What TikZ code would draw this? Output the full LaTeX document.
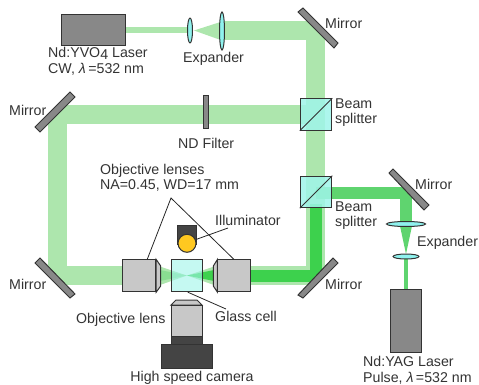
\documentclass[tikz,border=0pt]{standalone}
\usetikzlibrary{shapes.geometric}
\usepackage{fontspec}
\setmainfont{Liberation Sans}
\definecolor{beamlight}{HTML}{ADE6AD}
\definecolor{beamdark}{HTML}{3DD14D}
\definecolor{beammid}{HTML}{5FD46F}
\definecolor{metal}{HTML}{888888}
\definecolor{lensblue}{HTML}{8FF2EE}
\definecolor{splitblue}{HTML}{9FF5EA}
\definecolor{body}{HTML}{C8C8C8}
\definecolor{housing}{HTML}{444444}
\definecolor{lamp}{HTML}{FFC820}
\definecolor{ink}{HTML}{333333}
\tikzset{
  lbl/.style={inner sep=0pt,font=\fontsize{14.2}{15.5}\selectfont,text=ink,align=left,anchor=west},
  part/.style={draw=black!80,line width=1pt,line join=miter},
  mirrorbar/.style={part,fill=metal},
  lensbody/.style={part,fill=lensblue},
  laser/.style={part,fill=metal},
  leader/.style={draw=black!85,line width=.8pt},
  beam/.style={line join=bevel,line cap=butt}
}
\begin{document}
\begin{tikzpicture}[x=1pt,y=-1pt]
\useasboundingbox (0,0) rectangle (479,385);
% beams
\draw[beam,beamlight,line width=6pt] (125,30.5) -- (192,30.5);
\fill[beamlight] (194,30.5) -- (222,21.5) -- (222,40.5) -- cycle;
\draw[beam,beamlight,line width=19pt] (222,31) -- (315.5,31) -- (315.5,275.5) -- (250,275.5);
\draw[beam,beamlight,line width=19pt] (315.5,114.5) -- (57.5,114.5) -- (57.5,275.5) -- (123,275.5);
\fill[beamlight] (160,266.5) -- (187,275.5) -- (160,285) -- cycle;
\fill[beamlight] (214,266.5) -- (187,275.5) -- (214,285) -- cycle;
\fill[beammid,opacity=.45] (160,270) -- (187,275.5) -- (160,281) -- cycle;
\fill[beamdark] (214,270) -- (187,275.5) -- (214,281) -- cycle;
\draw[beam,beammid,line width=12pt] (316,192.5) -- (406,192.5) -- (406,226);
\draw[beam,beamdark,line width=12pt] (316,204) -- (316,275.5) -- (250,275.5);
\fill[beammid] (400,226) -- (412,226) -- (406,254) -- cycle;
\draw[beam,beammid,line width=4pt] (406,256) -- (406,290);
% top laser line
\node[laser,minimum width=64pt,minimum height=31pt,inner sep=0pt] (yvo) at (93,30.5) {};
\node[lensbody,ellipse,minimum width=5pt,minimum height=25pt,inner sep=0pt] (lensA) at (190,30.5) {};
\node[lensbody,ellipse,minimum width=5pt,minimum height=38pt,inner sep=0pt] (lensB) at (222,31) {};
% mirrors
\draw[mirrorbar] (298,12) -- (303,8) -- (338,43) -- (334,48) -- cycle;
\draw[mirrorbar] (35,127) -- (70,92) -- (75,97) -- (40,132) -- cycle;
\draw[mirrorbar] (35,263) -- (40,258) -- (75,294) -- (70,298) -- cycle;
\draw[mirrorbar] (298,295) -- (333,258) -- (338,263) -- (303,298) -- cycle;
\draw[mirrorbar] (389,173) -- (393,169) -- (429,205) -- (424,210) -- cycle;
% ND filter
\node[laser,minimum width=5pt,minimum height=33pt,inner sep=0pt] (nd) at (206,112) {};
% splitters
\foreach \n/\y in {splitA/114.5,splitB/192} {
  \node[part,fill=splitblue,fill opacity=.85,minimum size=31.5pt,inner sep=0pt] (\n) at (316,\y) {};
  \draw[part] (\n.south west) -- (\n.north east);
}
% right lenses and laser
\node[lensbody,ellipse,minimum width=39pt,minimum height=5pt,inner sep=0pt] (lensC) at (406,224) {};
\node[lensbody,ellipse,minimum width=26pt,minimum height=5pt,inner sep=0pt] (lensD) at (406,256.5) {};
\node[laser,minimum width=31pt,minimum height=63pt,inner sep=0pt] (yag) at (406.2,320.5) {};
% cell
\node[part,fill=splitblue,fill opacity=.6,minimum width=31.3pt,minimum height=31.7pt,inner sep=0pt] (cell) at (186.7,275.8) {};
% objective lenses
\node[part,fill=body,minimum width=33pt,minimum height=31.7pt,inner sep=0pt] (objL) at (139.2,275.8) {};
\draw[part,fill=body] (objL.north east) -- (160.7,266) -- (160.7,286) -- (objL.south east) -- cycle;
\node[part,fill=body,minimum width=32.7pt,minimum height=31.7pt,inner sep=0pt] (objR) at (234.3,275.8) {};
\draw[part,fill=body] (objR.north west) -- (213.3,266) -- (213.3,286) -- (objR.south west) -- cycle;
% illuminator
\node[part,fill=housing,minimum width=18.3pt,minimum height=19pt,inner sep=0pt] (lampbox) at (186.9,234.5) {};
\node[part,fill=lamp,circle,minimum size=18pt,inner sep=0pt] (lampbulb) at (187,243.3) {};
% camera
\draw[part,fill=body] (171,305) -- (176,300) -- (197,300) -- (202,305) -- cycle;
\node[part,fill=body,minimum width=31pt,minimum height=31pt,inner sep=0pt] (camlens) at (186.5,320.5) {};
\node[part,fill=housing,minimum width=31pt,minimum height=8pt,inner sep=0pt] (camring) at (186.5,340) {};
\node[part,fill=housing,minimum width=50.6pt,minimum height=24pt,inner sep=0pt] (camera) at (187,356) {};
% leaders
\coordinate (apex) at (171,198);
\coordinate (illumEnd) at (228,228);
\coordinate (cellEnd) at (226,309);
\draw[leader] (objL.north) ++(8,0) -- (apex) -- ([xshift=-.3pt]objR.north);
\draw[leader] (lampbulb.east) ++(0,-4) -- (illumEnd);
\draw[leader] (cell.south) ++(1,0) -- (cellEnd);
% labels
\node[lbl] (t1) at (48,61.5) {Nd:YVO\raisebox{-1.5pt}{4} Laser\\CW, \textit{λ}\,=532 nm};
\node[lbl] (t2) at (183,59) {Expander};
\node[lbl] (t3) at (325,23) {Mirror};
\node[lbl] (t4) at (335,112.5) {Beam\\splitter};
\node[lbl] (t5) at (178,143) {ND Filter};
\node[lbl] (t6) at (9,110) {Mirror};
\node[lbl] (t7) at (100,178) {Objective lenses\\NA=0.45, WD=17 mm};
\node[lbl] (t8) at (215,220) {Illuminator};
\node[lbl] (t9) at (9,284) {Mirror};
\node[lbl] (t10) at (76,320) {Objective lens};
\node[lbl] (t11) at (215,316) {Glass cell};
\node[lbl,anchor=center] (t12) at (192,378) {High speed camera};
\node[lbl] (t13) at (325,284) {Mirror};
\node[lbl] (t14) at (335,215.5) {Beam\\splitter};
\node[lbl] (t15) at (415,184) {Mirror};
\node[lbl] (t16) at (417,243) {Expander};
\node[lbl] (t17) at (363,370.5) {Nd:YAG Laser\\Pulse, \textit{λ}\,=532 nm};
\end{tikzpicture}
\end{document}
